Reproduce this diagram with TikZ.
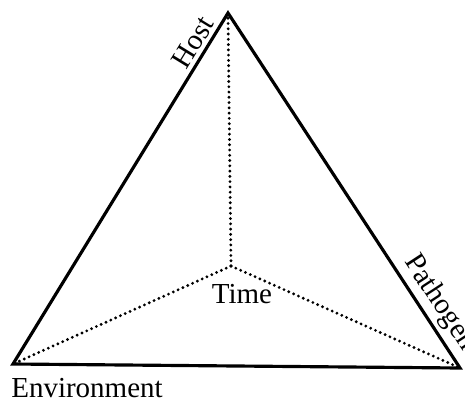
\documentclass[tikz,border=0pt]{standalone}
\usepackage{fontspec}
\setmainfont{Liberation Serif}
\usepackage{tikz}
\usetikzlibrary{positioning}

\begin{document}
\begin{tikzpicture}[
  edge/.style={line width=1.8pt, line join=miter},
  axis/.style={line width=1.8pt, line cap=round, dash pattern=on 0pt off 3pt},
  lab/.style={font=\fontsize{16.5}{19}\selectfont, inner sep=2pt}
]
\useasboundingbox (0,0) rectangle (9.3,8.1);
\coordinate (host) at (4.56,7.84);
\coordinate (env) at (0.26,0.82);
\coordinate (path) at (9.2,0.74);
\coordinate (time) at (4.62,2.78);

\draw[edge] (env) -- node[lab, pos=0.895, sloped, above] (hostlab) {Host} (host)
  -- node[lab, pos=0.845, sloped, above] (pathlab) {Pathogen} (path) -- cycle;
\foreach \v in {host,env,path}
  \draw[axis] (time) -- (\v);

\node[lab] (timelab) at (4.84,2.22) {Time};
\node[lab] (envlab) at (1.74,0.34) {Environment};
\end{tikzpicture}
\end{document}
